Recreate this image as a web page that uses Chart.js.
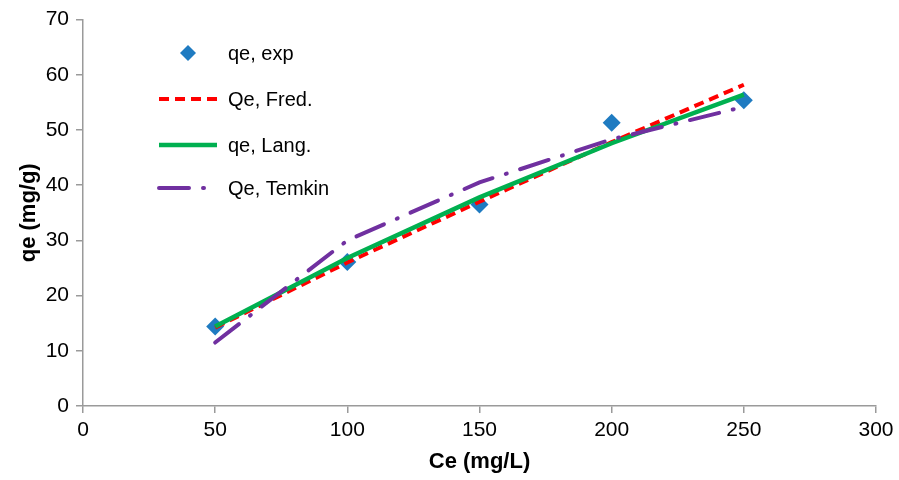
<!DOCTYPE html>
<html>
<head>
<meta charset="utf-8">
<script src="https://cdn.jsdelivr.net/npm/chart.js@4/dist/chart.umd.min.js"></script>
<style>
  html, body { margin: 0; padding: 0; background: #fff; }
  #wrap { width: 899px; height: 480px; }
</style>
</head>
<body>
<div id="wrap"><canvas id="isoChart" width="899" height="480"></canvas></div>
<script>
// values
const ce = [50, 100, 150, 200, 250] // Ce (mg/L)
const qeExp = [14.4, 26.1, 36.5, 51.3, 55.4]
const qeFred = [14.2, 26.0, 37.0, 47.8, 58.2]
const qeLang = [14.4, 26.8, 37.8, 47.6, 56.4]
const qeTemkin = [11.5, 30.0, 40.5, 48.3, 54.2]
const seriesNames = ['qe, exp', 'Qe, Fred.', 'qe, Lang.', 'Qe, Temkin']

const xTitle = 'Ce (mg/L)'
const yTitle = 'qe (mg/g)'

const FONT = 'Arial, "Liberation Sans", sans-serif'
const AXIS_GREY = '#9a9a9a'

function toPoints(ys) {
  return ce.map((x, i) => ({ x: x, y: ys[i] }))
}

// legend sits inside the plot, top left (like excel)
const insideLegend = {
  id: 'insideLegend',
  afterDraw(chart) {
    const ctx = chart.ctx
    const rows = [53, 99, 145, 188]
    ctx.save()
    ctx.font = '20px ' + FONT
    ctx.fillStyle = '#000'
    ctx.textBaseline = 'middle'
    chart.data.datasets.forEach((ds, i) => {
      const y = rows[i]
      if (i == 0) {
        // diamond marker
        ctx.fillStyle = ds.backgroundColor
        ctx.beginPath()
        ctx.moveTo(188, y - 8)
        ctx.lineTo(196, y)
        ctx.lineTo(188, y + 8)
        ctx.lineTo(180, y)
        ctx.closePath()
        ctx.fill()
      } else {
        ctx.strokeStyle = ds.borderColor
        ctx.lineWidth = ds.borderWidth
        ctx.lineCap = ds.borderCapStyle || 'butt'
        ctx.setLineDash(ds.borderDash || [])
        ctx.beginPath()
        ctx.moveTo(159, y)
        ctx.lineTo(217, y)
        ctx.stroke()
        ctx.setLineDash([])
      }
      ctx.fillStyle = '#000'
      ctx.fillText(seriesNames[i], 228, y + 1)
    })
    ctx.restore()
  }
}

const ctx = document.getElementById('isoChart').getContext('2d')
const isoChart = new Chart(ctx, {
  type: 'scatter',
  data: {
    datasets: [{
      label: seriesNames[0],
      data: toPoints(qeExp),
      showLine: false,
      pointStyle: 'rectRot',
      pointRadius: 9,
      backgroundColor: '#1f7bc1',
      borderColor: '#1f7bc1',
      borderWidth: 0,
      order: 4
    }, {
      label: seriesNames[1],
      data: toPoints(qeFred),
      showLine: true,
      pointRadius: 0,
      borderColor: '#ff0000',
      borderWidth: 4,
      borderDash: [10, 6],
      borderCapStyle: 'butt',
      tension: 0,
      order: 3
    }, {
      label: seriesNames[2],
      data: toPoints(qeLang),
      showLine: true,
      pointRadius: 0,
      borderColor: '#00b050',
      borderWidth: 4.5,
      tension: 0,
      order: 2
    }, {
      label: seriesNames[3],
      data: toPoints(qeTemkin),
      showLine: true,
      pointRadius: 0,
      borderColor: '#7030a0',
      borderWidth: 4,
      borderDash: [30, 14, 1, 14],
      borderCapStyle: 'round',
      tension: 0,
      order: 1
    }]
  },
  options: {
    responsive: false,
    animation: false,
    layout: { padding: { top: 17, right: 23, left: 0, bottom: 0 } },
    plugins: {
      legend: { display: false },
      tooltip: { enabled: false }
    },
    scales: {
      x: {
        type: 'linear',
        min: 0,
        max: 300,
        ticks: { stepSize: 50, color: '#000', font: { family: FONT, size: 21 }, padding: 5 },
        grid: { drawOnChartArea: false, color: AXIS_GREY, tickLength: 7, lineWidth: 1.5 },
        border: { color: AXIS_GREY, width: 1.5 },
        title: { display: true, text: xTitle, color: '#000', font: { family: FONT, size: 22, weight: 'bold' }, padding: { top: 0, bottom: 5 } },
        afterFit: function(scale) { scale.height = 74 }
      },
      y: {
        type: 'linear',
        min: 0,
        max: 70,
        ticks: { stepSize: 10, color: '#000', font: { family: FONT, size: 21 }, padding: 7 },
        grid: { drawOnChartArea: false, color: AXIS_GREY, tickLength: 7, lineWidth: 1.5 },
        border: { color: AXIS_GREY, width: 1.5 },
        title: { display: true, text: yTitle, color: '#000', font: { family: FONT, size: 22, weight: 'bold' }, padding: { top: 16, bottom: 0 } },
        afterFit: function(scale) { scale.width = 83 }
      }
    }
  },
  plugins: [insideLegend]
})
</script>
</body>
</html>
